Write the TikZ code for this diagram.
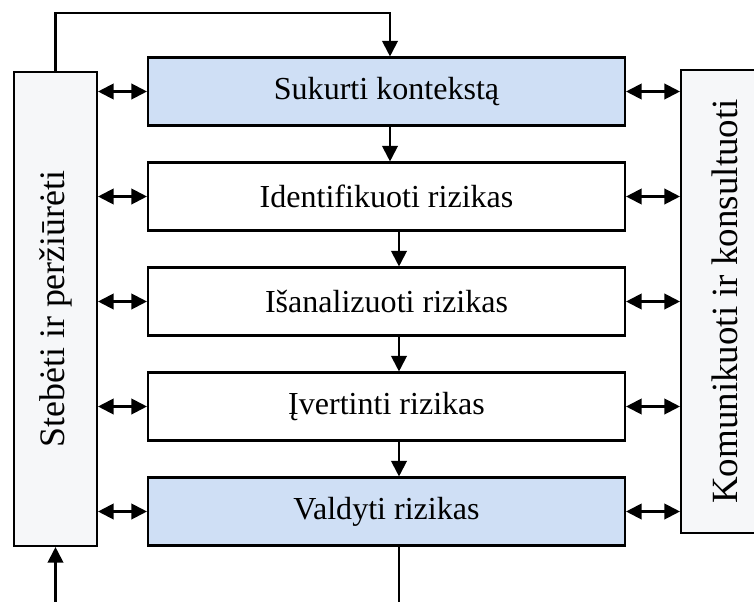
\documentclass[tikz,border=0pt]{standalone}
\usepackage{fontspec}
\setmainfont{Liberation Serif}
\usetikzlibrary{arrows.meta}
\usetikzlibrary{calc,positioning}

\definecolor{stageblue}{HTML}{CFDFF5}
\definecolor{sidegray}{HTML}{F6F7F9}

\begin{document}
\begin{tikzpicture}[
    stage/.style={draw,line width=1.5pt,minimum width=11.925cm,minimum height=1.7cm,inner sep=0pt,font=\fontsize{22.8}{26}\selectfont},
    side/.style={draw,line width=1.5pt,fill=sidegray,inner sep=0pt},
    link/.style={line width=1.5pt,-{Triangle[length=11pt,width=11pt]}},
    both/.style={line width=1.5pt,{Triangle[length=11pt,width=11pt]}-{Triangle[length=11pt,width=11pt]}}
  ]
  \useasboundingbox (0,0) rectangle (18.85,15.025);

  % side boxes
  \node[side,minimum width=2.075cm,minimum height=11.85cm] (mon) at (1.3875,7.3) {};
  \node[rotate=90,font=\fontsize{25.5}{28}\selectfont] (monlabel) at (mon) {Stebėti ir peržiūrėti};
  \node[side,minimum width=2.2cm,minimum height=11.575cm] (com) at (18.125,7.4875) {};
  \node[rotate=90,font=\fontsize{26.3}{30}\selectfont] (comlabel) at (com) {Komunikuoti ir konsultuoti};

  % stages
  \foreach \i/\t/\c in {1/Sukurti kontekstą/stageblue, 2/Identifikuoti rizikas/white,
      3/Išanalizuoti rizikas/white, 4/Įvertinti rizikas/white, 5/Valdyti rizikas/stageblue} {
    \node[stage,fill=\c] (b\i) at (9.6625,15.3625-2.625*\i) {\t};
    \draw[both] (mon.east |- b\i) -- (b\i.west);
    \draw[both] (b\i.east) -- (com.west |- b\i);
  }

  \foreach \i/\s in {1/0.0875, 2/0.3125, 3/0.3125, 4/0.3125} {
    \pgfmathtruncatemacro\j{\i+1}
    \draw[link] ([xshift=\s cm]b\i.south) -- ([xshift=\s cm]b\j.north);
  }

  % loop round the top and the bottom
  \coordinate (loop) at (1.3875,14.7);
  \draw[link] (mon.north) -- (loop) -| ([xshift=0.0875cm]b1.north);
  \coordinate (inlet) at (1.3875,-0.1);
  \draw[link] (inlet) -- (mon.south);
  \coordinate (outlet) at (9.975,-0.1);
  \draw[line width=1.5pt] ([xshift=0.3125cm]b5.south) -- (outlet);
\end{tikzpicture}
\end{document}
